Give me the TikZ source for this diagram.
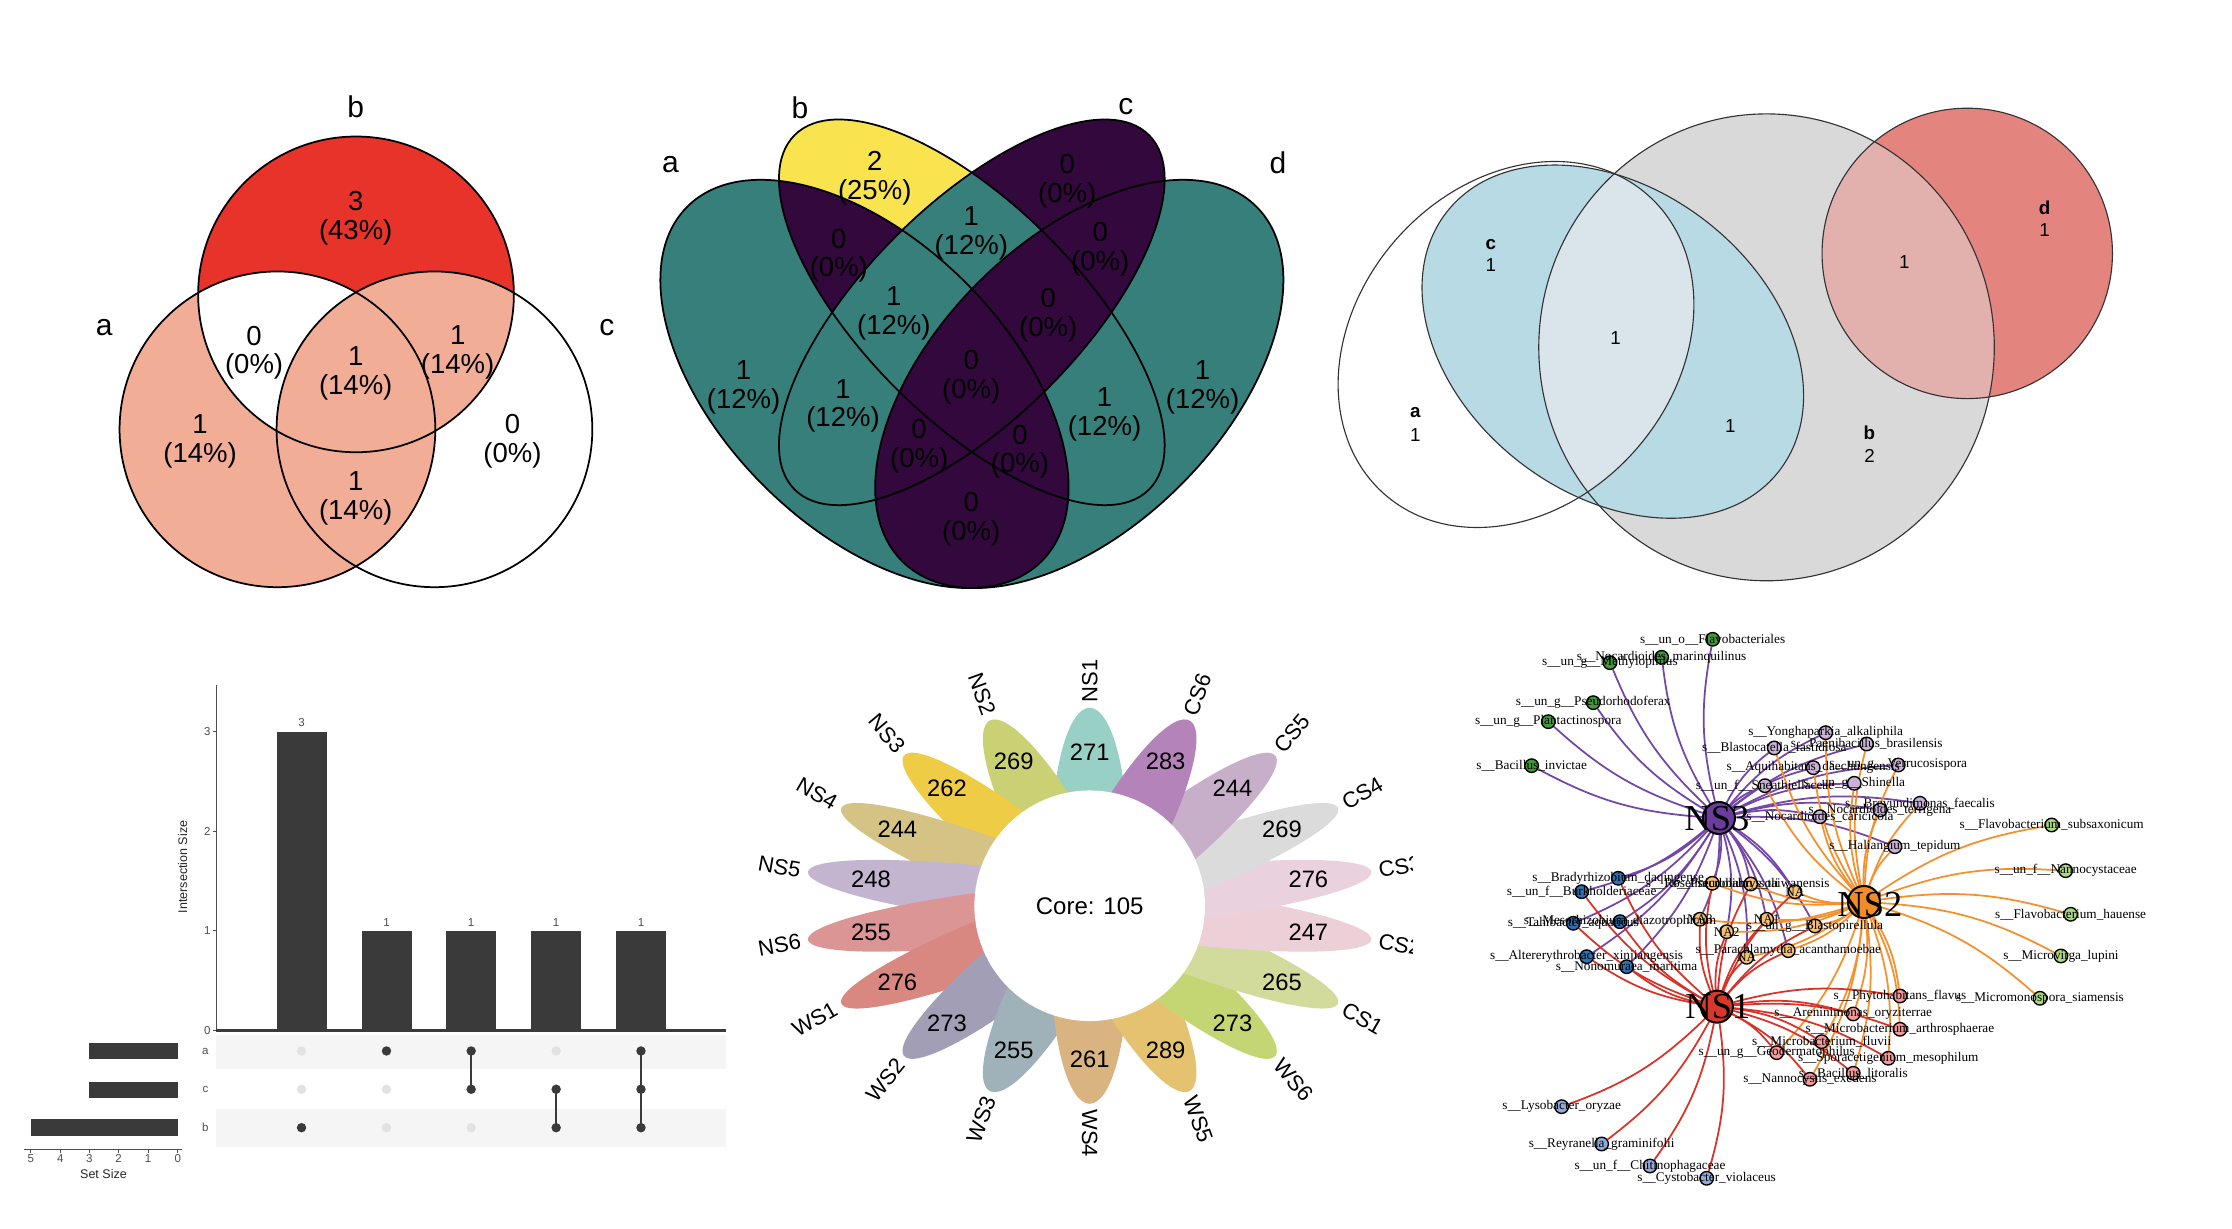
\documentclass[tikz,border=0pt]{standalone}
\usepackage{fontspec}
\setmainfont{Liberation Sans}
\newfontfamily\netserif{Liberation Serif}
\pgfdeclarelayer{bgzero}
\pgfdeclarelayer{edges}
\pgfsetlayers{bgzero,edges,main}
\definecolor{vred}{HTML}{E8332A}
\definecolor{vsal}{HTML}{F2AD97}
\definecolor{qteal}{HTML}{367F7A}
\definecolor{qpur}{HTML}{33093D}
\definecolor{qyel}{HTML}{F9E44F}
\definecolor{egray}{HTML}{D9D9D9}
\definecolor{eblue}{HTML}{B7DAE5}
\definecolor{elight}{HTML}{D9E5EA}
\definecolor{ered}{HTML}{E3847F}
\definecolor{epink}{HTML}{E2B1AD}
\definecolor{upbar}{HTML}{3A3A3A}
\definecolor{upgray}{HTML}{4D4D4D}
\definecolor{upbg}{HTML}{F5F5F5}
\definecolor{updotg}{HTML}{E2E2E2}
\definecolor{fA}{HTML}{99D0C6}\definecolor{fB}{HTML}{C9D174}\definecolor{fC}{HTML}{EFCC45}
\definecolor{fD}{HTML}{D5C386}\definecolor{fE}{HTML}{C3B5CF}\definecolor{fF}{HTML}{DB9595}
\definecolor{fG}{HTML}{D88881}\definecolor{fH}{HTML}{A29EB5}\definecolor{fI}{HTML}{9FB1B9}
\definecolor{fJ}{HTML}{D9B481}\definecolor{fK}{HTML}{E5C26F}\definecolor{fL}{HTML}{C4D574}
\definecolor{fM}{HTML}{D3DB9C}\definecolor{fN}{HTML}{EDCFD7}\definecolor{fO}{HTML}{E9D2DE}
\definecolor{fP}{HTML}{DCDBDB}\definecolor{fQ}{HTML}{C7AFCA}\definecolor{fR}{HTML}{B383BA}
\definecolor{cG}{HTML}{3F9B35}\definecolor{cL}{HTML}{CAB2D6}\definecolor{cB}{HTML}{2F72B4}
\definecolor{cLB}{HTML}{92ABDB}\definecolor{cY}{HTML}{F5C074}\definecolor{cP}{HTML}{F4999A}
\definecolor{cLG}{HTML}{A9D97F}
\definecolor{hNSc}{HTML}{6A3D9A}\definecolor{hNSb}{HTML}{F28C28}\definecolor{hNSa}{HTML}{D8372B}
\definecolor{ePur}{HTML}{7446A8}\definecolor{eOra}{HTML}{F5902C}\definecolor{eRed}{HTML}{D93228}
\tikzset{
 vtxt/.style={font=\fontsize{11}{11.5}\selectfont, align=center, inner sep=0pt},
 vset/.style={font=\fontsize{12}{12}\selectfont, inner sep=0pt},
 vline/.style={draw=black, line width=0.7pt},
 etxt/.style={font=\fontsize{7.5}{8}\selectfont, inner sep=0pt},
 eset/.style={font=\fontsize{7.5}{8}\selectfont\bfseries, inner sep=0pt},
 eline/.style={draw=black!80, line width=0.45pt},
 uptick/.style={font=\fontsize{4.6}{5}\selectfont, text=upgray, inner sep=0pt},
 uptitle/.style={font=\fontsize{5}{6}\selectfont, text=black!85, inner sep=0pt},
 upax/.style={draw=upgray, line width=0.4pt},
 upbase/.style={draw=upbar, line width=1pt},
 fval/.style={font=\fontsize{9.5}{10}\selectfont, inner sep=0pt},
 flab/.style={font=\fontsize{8.8}{9}\selectfont, inner sep=0pt},
 fcore/.style={font=\fontsize{9.6}{10}\selectfont, inner sep=0pt},
 leafn/.style={circle, draw=black, line width=0.55pt, minimum size=0.19cm, inner sep=0pt},
 hubn/.style={circle, draw=black, line width=0.8pt, minimum size=0.45cm, inner sep=0pt},
 lbl/.style={font=\netserif\fontsize{5.3}{6}\selectfont, inner sep=0pt},
 hublbl/.style={font=\netserif\fontsize{14.6}{15}\selectfont, inner sep=0pt},
 edgeP/.style={draw=ePur, line width=0.7pt},
 edgeO/.style={draw=eOra, line width=0.7pt},
 edgeR/.style={draw=eRed, line width=0.7pt},
}
\def\vA{(194.9,301.6) circle (110.9)}
\def\vB{(250.1,206.8) circle (110.9)}
\def\vC{(305.2,301.6) circle (110.9)}
\def\qA{(607.3,269.7) ellipse [x radius=176.05, y radius=100.6, rotate=-45]}
\def\qB{(682.7,219.4) ellipse [x radius=176.05, y radius=75.45, rotate=-45]}
\def\qC{(682.7,219.4) ellipse [x radius=176.05, y radius=75.45, rotate=45]}
\def\qD{(758.2,269.7) ellipse [x radius=176.05, y radius=100.6, rotate=45]}
\def\eB{(1241,244) ellipse [x radius=160, y radius=164]}
\def\eC{(1133,240) ellipse [x radius=148, y radius=107, rotate=-37.9]}
\def\eA{(1065,242) ellipse [x radius=140, y radius=112, rotate=48.7]}
\def\eD{(1382,178) circle (102)}
\def\leaflist{g1/1712.7/639.3/cG/s__un_o__Flavobacteriales,
g2/1661.7/657.3/cG/s__Nocardioides_marinquilinus,
g3/1610/662.7/cG/s__un_g__Methylophilus,
g4/1593.3/702.7/cG/s__un_g__Pseudorhodoferax,
g5/1548.3/721.7/cG/s__un_g__Plantactinospora,
g6/1531.7/765.7/cG/s__Bacillus_invictae,
l1/1825.7/732.7/cL/s__Yonghaparkia_alkaliphila,
l2/1866.7/744/cL/s__Paenibacillus_brasilensis,
l3/1774.3/748/cL/s__Blastocatella_fastidiosa,
l4/1813.3/767.7/cL/s__Aquihabitans_daechungensis,
l5/1898.3/765/cL/s__un_g__Verrucosispora,
l6/1765/785.7/cL/s__un_f__Sneathiellaceae,
l7/1854.3/783.3/cL/s__un_g__Shinella,
l8/1920/803.3/cL/s__Brevundimonas_faecalis,
l9/1880/810/cL/s__Nocardioides_terrigena,
l10/1820/816.7/cL/s__Nocardioides_caricicola,
l11/1895/846.7/cL/s__Haliangium_tepidum,
b1/1618.3/878.3/cB/s__Bradyrhizobium_daqingense,
b2/1581.7/891.7/cB/s__un_f__Burkholderiaceae,
b3/1573.3/923.3/cB/s__Tahibacter_aquaticus,
b4/1620/921.7/cB/s__Mesorhizobium_diazotrophicum,
b5/1586.7/956.7/cB/s__Altererythrobacter_xinjiangensis,
b6/1626.7/966.7/cB/s__Nonomuraea_maritima,
lb1/1561.7/1106.7/cLB/s__Lysobacter_oryzae,
lb2/1601.7/1144/cLB/s__Reyranella_graminifolii,
lb3/1650/1166/cLB/s__un_f__Chitinophagaceae,
lb4/1706.7/1178.3/cLB/s__Cystobacter_violaceus,
y1/1712.3/883.3/cY/s__Roseimicrobium_soli,
y2/1750.7/884/cY/s__Pseudolabrys_taiwanensis,
y3/1795/891.7/cY/NA,
y4/1700/919.3/cY/NA3,
y5/1726.7/931.7/cY/NA2,
y6/1766.7/919.3/cY/NA1,
y7/1815/926/cY/s__un_g__Blastopirellula,
y8/1746.7/957.3/cY/NA,
y9/1788.3/950.7/cY/s__Parachlamydia_acanthamoebae,
p1/1900/996/cP/s__Phytohabitans_flavus,
p2/1853.3/1014/cP/s__Areninimonas_oryziterrae,
p3/1900/1029.3/cP/s__Microbacterium_arthrosphaerae,
p4/1821.7/1041.7/cP/s__Microbacterium_fluvii,
p5/1776.7/1052.7/cP/s__un_g__Geodermatophilus,
p6/1888.3/1058.3/cP/s__Sporacetigenium_mesophilum,
p7/1853.3/1073.3/cP/s__Bacillus_litoralis,
p8/1810/1079.3/cP/s__Nannocystis_exedens,
lg1/2051.7/825/cLG/s__Flavobacterium_subsaxonicum,
lg2/2065.7/870.7/cLG/s__un_f__Nannocystaceae,
lg3/2070.7/914.3/cLG/s__Flavobacterium_hauense,
lg4/2061/956/cLG/s__Microvirga_lupini,
lg5/2040/998.3/cLG/s__Micromonospora_siamensis}
\begin{document}
\begin{tikzpicture}[x=0.02cm,y=-0.02cm]
\begin{pgfonlayer}{bgzero}\fill[white] (0,0) rectangle (1568,863);\end{pgfonlayer}
\useasboundingbox (0,0) rectangle (1568,863);
% ---------- panel 1: three-set Venn
\fill[vsal] \vA;
\fill[vred] \vB;
\begin{scope}\clip \vB; \fill[white] \vA; \end{scope}
\begin{scope}\clip \vB; \fill[vsal] \vC; \end{scope}
\begin{scope}\clip \vA; \fill[vsal] \vC; \end{scope}
\draw[vline] \vA; \draw[vline] \vB; \draw[vline] \vC;
\node[vset] (va) at (73.3,230.1) {a};
\node[vset] (vb) at (249.9,75.1) {b};
\node[vset] (vc) at (426.4,230.1) {c};
\node[vtxt] (v1) at (249.9,153.2) {3\\(43\%)};
\node[vtxt] (v2) at (178.5,247.8) {0\\(0\%)};
\node[vtxt] (v3) at (249.9,262.4) {1\\(14\%)};
\node[vtxt] (v4) at (321.5,247.3) {1\\(14\%)};
\node[vtxt] (v5) at (140.6,309.8) {1\\(14\%)};
\node[vtxt] (v6) at (360,309.8) {0\\(0\%)};
\node[vtxt] (v7) at (249.9,350) {1\\(14\%)};
% ---------- panel 2: four-set Venn
\fill[qteal] \qA; \fill[qteal] \qD;
\fill[qyel] \qB;
\fill[qpur] \qC;
\begin{scope}\clip \qB; \fill[qpur] \qA; \end{scope}
\begin{scope}\clip \qB; \fill[qteal] \qD; \end{scope}
\begin{scope}\clip \qA; \fill[qteal] \qC; \end{scope}
\begin{scope}\clip \qB; \fill[qteal] \qC; \end{scope}
\begin{scope}\clip \qC; \fill[qpur] \qD; \end{scope}
\begin{scope}\clip \qA; \fill[qpur] \qD; \end{scope}
\draw[vline] \qA; \draw[vline] \qB; \draw[vline] \qC; \draw[vline] \qD;
\node[vset] (qa) at (471,115.6) {a};
\node[vset] (qb) at (561.9,75.7) {b};
\node[vset] (qc) at (791,75) {c};
\node[vset] (qd) at (897.7,114.4) {d};
\node[vtxt] (q1) at (614.5,125) {2\\(25\%)};
\node[vtxt] (q2) at (589.3,179.6) {0\\(0\%)};
\node[vtxt] (q3) at (682.3,164.2) {1\\(12\%)};
\node[vtxt] (q4) at (749.7,127.4) {0\\(0\%)};
\node[vtxt] (q5) at (772.9,174.9) {0\\(0\%)};
\node[vtxt] (q6) at (627.9,219.9) {1\\(12\%)};
\node[vtxt] (q7) at (736.4,221.2) {0\\(0\%)};
\node[vtxt] (q8) at (682.3,265.1) {0\\(0\%)};
\node[vtxt] (q9) at (522.4,272.2) {1\\(12\%)};
\node[vtxt] (q10) at (844.8,272.2) {1\\(12\%)};
\node[vtxt] (q11) at (592.2,285.2) {1\\(12\%)};
\node[vtxt] (q12) at (775.9,291.2) {1\\(12\%)};
\node[vtxt] (q13) at (645.7,313.7) {0\\(0\%)};
\node[vtxt] (q14) at (716.5,317.3) {0\\(0\%)};
\node[vtxt] (q15) at (682.3,364.7) {0\\(0\%)};
% ---------- panel 3: Euler
\fill[egray] \eB;
\fill[eblue] \eC;
\begin{scope}\clip \eA; \clip \eB; \fill[elight] \eC; \end{scope}
\fill[ered] \eD;
\begin{scope}\clip \eB; \fill[epink] \eD; \end{scope}
\draw[eline] \eA; \draw[eline] \eB; \draw[eline] \eC; \draw[eline] \eD;
\node[eset] (ec) at (1047.4,171.5) {c};
\node[etxt] (ec1) at (1047.4,186) {1};
\node[eset] (ea) at (994.2,290.1) {a};
\node[etxt] (ea1) at (994.2,305.5) {1};
\node[eset] (eb) at (1313.3,304.1) {b};
\node[etxt] (eb1) at (1313.3,320) {2};
\node[eset] (ed) at (1436.3,146) {d};
\node[etxt] (ed1) at (1436.3,161.5) {1};
\node[etxt] (eabc) at (1134.9,237.8) {1};
\node[etxt] (ebc) at (1215.6,299.4) {1};
\node[etxt] (ebd) at (1337.8,184.3) {1};
% ---------- panel 4: UpSet
\fill[upbg] (152,727.1) rectangle (510,751.2);
\fill[upbg] (152,779.1) rectangle (510,805.5);
\draw[upax] (152,481) -- (152,724);
\foreach \v/\yy in {0/724,1/654,2/584,3/514}{
  \draw[upax] (149.5,\yy) -- (152,\yy);
  \node[uptick, anchor=east] (yt\v) at (148.3,\yy) {\v};
}
\foreach \xx/\hh in {194.3/514, 254/654, 313.3/654, 373/654, 432.7/654}
  \fill[upbar] (\xx,\hh) rectangle (\xx+35.3,724);
\draw[upbase] (152,724) -- (510,724);
\node[uptick] (bv1) at (211.8,507.6) {3};
\node[uptick] (bv2) at (271.5,648) {1};
\node[uptick] (bv3) at (331,648) {1};
\node[uptick] (bv4) at (390.7,648) {1};
\node[uptick] (bv5) at (450.3,648) {1};
\node[uptitle, rotate=90] (ylab) at (128.3,609) {Intersection Size};
\foreach \xx in {211.8,271.5,331,390.7,450.3}{
  \fill[updotg] (\xx,738.3) circle (3.3);
  \fill[updotg] (\xx,765.2) circle (3.3);
  \fill[updotg] (\xx,792.2) circle (3.3);
}
\draw[upbar, line width=0.9pt] (331,738.3) -- (331,765.2);
\draw[upbar, line width=0.9pt] (390.7,765.2) -- (390.7,792.2);
\draw[upbar, line width=0.9pt] (450.3,738.3) -- (450.3,792.2);
\foreach \xx/\yy in {211.8/792.2, 271.5/738.3, 331/738.3, 331/765.2, 390.7/765.2, 390.7/792.2, 450.3/738.3, 450.3/765.2, 450.3/792.2}
  \fill[upbar] (\xx,\yy) circle (3.3);
\node[uptick] (ra) at (144.3,738.3) {a};
\node[uptick] (rc) at (144.3,765.2) {c};
\node[uptick] (rb) at (144.3,792.2) {b};
\fill[upbar] (62.7,733) rectangle (125,744.2);
\fill[upbar] (62.7,759.9) rectangle (125,771.1);
\fill[upbar] (21.7,786.3) rectangle (125,798);
\draw[upax] (16.7,807.6) -- (128,807.6);
\foreach \v/\xx in {5/21.7,4/42.3,3/62.7,2/83.3,1/104,0/125}{
  \draw[upax] (\xx,807.6) -- (\xx,810);
  \node[uptick] (st\v) at (\xx,814) {\v};
}
\node[uptitle] (sslab) at (72.7,825) {Set Size};
% ---------- panel 5: flower
\foreach \pidx/\col in {0/fA,1/fB,2/fC,3/fD,4/fE,5/fF,6/fG,7/fH,8/fI,9/fJ,10/fK,11/fL,12/fM,13/fN,14/fO,15/fP,16/fQ,17/fR}{
  \pgfmathsetmacro\fang{90+20*\pidx}
  \fill[\col, shift={(765.5,636.3)}, xscale=62.4, yscale=43.2, rotate=\fang-90] (0,-1) ellipse [x radius=0.43, y radius=2.22];
}
\fill[white] (765.5,636.3) circle (81);
\node[fcore] (core) at (765.5,636.3) {Core: 105};
\begin{scope}
\clip (500,430) rectangle (992,860);
\foreach \pidx/\lab/\val in {0/NS1/271,1/NS2/269,2/NS3/262,3/NS4/244,4/NS5/248,5/NS6/255,6/WS1/276,7/WS2/273,8/WS3/255,9/WS4/261,10/WS5/289,11/WS6/273,12/CS1/265,13/CS2/247,14/CS3/276,15/CS4/269,16/CS5/244,17/CS6/283}{
  \pgfmathsetmacro\fang{90+20*\pidx}
  \pgfmathsetmacro\fvx{765.5+156*cos(\fang)}
  \pgfmathsetmacro\fvy{636.3-108*sin(\fang)}
  \node[fval] (fv\pidx) at (\fvx,\fvy) {\val};
  \pgfmathsetmacro\flx{765.5+205.9*cos(\fang)}
  \pgfmathsetmacro\fly{636.3-142.6*sin(\fang)}
  \pgfmathtruncatemacro\flhs{(\fang>90 && \fang<270) ? 1 : 0}
  \ifnum\flhs=1
    \node[flab, anchor=east, rotate=\fang-180] (fl\pidx) at (\flx,\fly) {\lab};
  \else
    \node[flab, anchor=west, rotate=\fang] (fl\pidx) at (\flx,\fly) {\lab};
  \fi
}
\end{scope}
% ---------- panel 6: network
\begin{scope}[scale=0.70249]
\foreach \nn/\nx/\ny/\nc/\ns in \leaflist {
  \node[leafn, fill=\nc] (\nn) at (\nx,\ny) {};
}
\foreach \nn/\nx/\ny/\nc/\ns in \leaflist {
  \node[lbl] (\nn t) at (\nx,\ny) {\expandafter\detokenize\expandafter{\ns}};
}
\node[hubn, fill=hNSc] (NS3) at (1719,818) {};
\node[hubn, fill=hNSb] (NS2) at (1864,902) {};
\node[hubn, fill=hNSa] (NS1) at (1717,1006.7) {};
\node[hublbl] (NS3t) at (1717,819) {NS3};
\node[hublbl] (NS2t) at (1870,905) {NS2};
\node[hublbl] (NS1t) at (1718,1007) {NS1};
\begin{pgfonlayer}{edges}
\foreach \nn in {g1,g2,g3,g4,g5,g6,l1,l2,l3,l4,l5,l6,l7,l8,l9,l10,l11,b1,b2,b3,b4,b5,b6,y1,y2,y3,y4,y5,y6,y7,y8,y9}
  \draw[edgeP] (NS3) to[bend left=12] (\nn);
\foreach \nn in {l1,l2,l3,l4,l5,l6,l7,l8,l9,l10,l11,y1,y2,y3,y4,y5,y6,y7,y8,y9,p1,p2,p3,p4,p5,p6,p7,p8,lg1,lg2,lg3,lg4,lg5}
  \draw[edgeO] (NS2) to[bend left=12] (\nn);
\foreach \nn in {b1,b2,b3,b4,b5,b6,lb1,lb2,lb3,lb4,y1,y2,y3,y4,y5,y6,y7,y8,y9,p1,p2,p3,p4,p5,p6,p7,p8}
  \draw[edgeR] (NS1) to[bend left=12] (\nn);
\end{pgfonlayer}
\end{scope}
\end{tikzpicture}
\end{document}
